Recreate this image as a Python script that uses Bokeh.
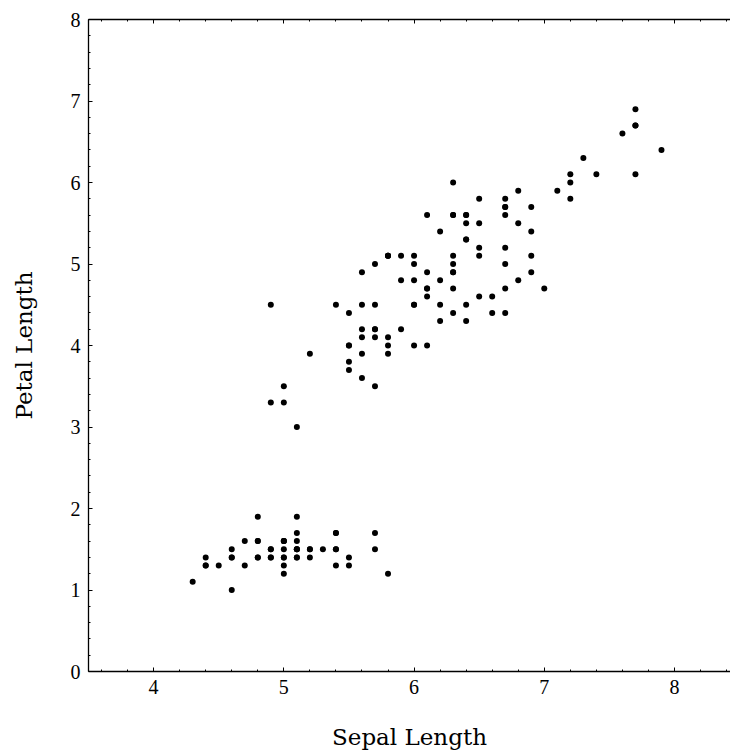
from bokeh.plotting import figure
from bokeh.models import LinearAxis, FixedTicker, Range1d
from bokeh.embed import file_html
from bokeh.resources import INLINE

sepal_length = [
    5.1, 4.9, 4.7, 4.6, 5.0, 5.4, 4.6, 5.0, 4.4, 4.9, 5.4, 4.8, 4.8, 4.3, 5.8, 5.7, 5.4, 5.1, 5.7, 5.1,
    5.4, 5.1, 4.6, 5.1, 4.8, 5.0, 5.0, 5.2, 5.2, 4.7, 4.8, 5.4, 5.2, 5.5, 4.9, 5.0, 5.5, 4.9, 4.4, 5.1,
    5.0, 4.5, 4.4, 5.0, 5.1, 4.8, 5.1, 4.6, 5.3, 5.0,
    7.0, 6.4, 6.9, 5.5, 6.5, 5.7, 6.3, 4.9, 6.6, 5.2, 5.0, 5.9, 6.0, 6.1, 5.6, 6.7, 5.6, 5.8, 6.2, 5.6,
    5.9, 6.1, 6.3, 6.1, 6.4, 6.6, 6.8, 6.7, 6.0, 5.7, 5.5, 5.5, 5.8, 6.0, 5.4, 6.0, 6.7, 6.3, 5.6, 5.5,
    5.5, 6.1, 5.8, 5.0, 5.6, 5.7, 5.7, 6.2, 5.1, 5.7,
    6.3, 5.8, 7.1, 6.3, 6.5, 7.6, 4.9, 7.3, 6.7, 7.2, 6.5, 6.4, 6.8, 5.7, 5.8, 6.4, 6.5, 7.7, 7.7, 6.0,
    6.9, 5.6, 7.7, 6.3, 6.7, 7.2, 6.2, 6.1, 6.4, 7.2, 7.4, 7.9, 6.4, 6.3, 6.1, 7.7, 6.3, 6.4, 6.0, 6.9,
    6.7, 6.9, 5.8, 6.8, 6.7, 6.7, 6.3, 6.5, 6.2, 5.9,
]
petal_length = [
    1.4, 1.4, 1.3, 1.5, 1.4, 1.7, 1.4, 1.5, 1.4, 1.5, 1.5, 1.6, 1.4, 1.1, 1.2, 1.5, 1.3, 1.4, 1.7, 1.5,
    1.7, 1.5, 1.0, 1.7, 1.9, 1.6, 1.6, 1.5, 1.4, 1.6, 1.6, 1.5, 1.5, 1.4, 1.5, 1.2, 1.3, 1.4, 1.3, 1.5,
    1.3, 1.3, 1.3, 1.6, 1.9, 1.4, 1.6, 1.4, 1.5, 1.4,
    4.7, 4.5, 4.9, 4.0, 4.6, 4.5, 4.7, 3.3, 4.6, 3.9, 3.5, 4.2, 4.0, 4.7, 3.6, 4.4, 4.5, 4.1, 4.5, 3.9,
    4.8, 4.0, 4.9, 4.7, 4.3, 4.4, 4.8, 5.0, 4.5, 3.5, 3.8, 3.7, 3.9, 5.1, 4.5, 4.5, 4.7, 4.4, 4.1, 4.0,
    4.4, 4.6, 4.0, 3.3, 4.2, 4.2, 4.2, 4.3, 3.0, 4.1,
    6.0, 5.1, 5.9, 5.6, 5.8, 6.6, 4.5, 6.3, 5.8, 6.1, 5.1, 5.3, 5.5, 5.0, 5.1, 5.3, 5.5, 6.7, 6.9, 5.0,
    5.7, 4.9, 6.7, 4.9, 5.7, 6.0, 4.8, 4.9, 5.6, 5.8, 6.1, 6.4, 5.6, 5.1, 5.6, 6.1, 5.6, 5.5, 4.8, 5.4,
    5.6, 5.1, 5.1, 5.9, 5.7, 5.2, 5.0, 5.2, 5.4, 5.1,
]

x_ticks = [4, 5, 6, 7, 8]
y_ticks = [0, 1, 2, 3, 4, 5, 6, 7, 8]
x_minor = [round(3.6 + 0.2 * i, 1) for i in range(25)]
y_minor = [round(0.2 * i, 1) for i in range(41)]

FONT = "Liberation Serif"
LABEL_FONT = "DejaVu Serif"

p = figure(width=730, height=752, output_backend="svg", toolbar_location=None,
           x_range=Range1d(3.5, 8.43), y_range=Range1d(0, 8),
           min_border_left=88, min_border_right=0, min_border_top=19, min_border_bottom=81)
p.grid.visible = False
p.outline_line_color = None
p.background_fill_color = "white"
p.border_fill_color = "white"

p.scatter(sepal_length, petal_length, size=6, color="black", line_color=None)

bottom = p.below[0]
left = p.left[0]
bottom.axis_label = "Sepal Length"
left.axis_label = "Petal Length"
bottom.ticker = FixedTicker(ticks=x_ticks, minor_ticks=x_minor)
left.ticker = FixedTicker(ticks=y_ticks, minor_ticks=y_minor)

top = LinearAxis(ticker=FixedTicker(ticks=x_ticks, minor_ticks=x_minor))
p.add_layout(top, "above")

for ax in [bottom, left, top]:
    ax.axis_line_color = "black"
    ax.axis_line_width = 1.3
    ax.major_tick_in = 4
    ax.major_tick_out = 0
    ax.minor_tick_in = 2
    ax.minor_tick_out = 0
    ax.major_tick_line_color = "black"
    ax.minor_tick_line_color = "black"
    ax.major_label_text_font = FONT
    ax.major_label_text_color = "black"
    ax.axis_label_text_font = LABEL_FONT
    ax.axis_label_text_font_style = "normal"
    ax.axis_label_text_color = "black"

top.major_label_standoff = 0
top.major_label_text_font_size = "0px"
top.major_label_text_alpha = 0

for ax in [bottom, left]:
    ax.major_label_text_font_size = "20px"
    ax.major_label_standoff = 8
    ax.axis_label_text_font_size = "23px"
bottom.axis_label_standoff = 27
left.axis_label_standoff = 31

open("out.html", "w").write(file_html(p, INLINE))
